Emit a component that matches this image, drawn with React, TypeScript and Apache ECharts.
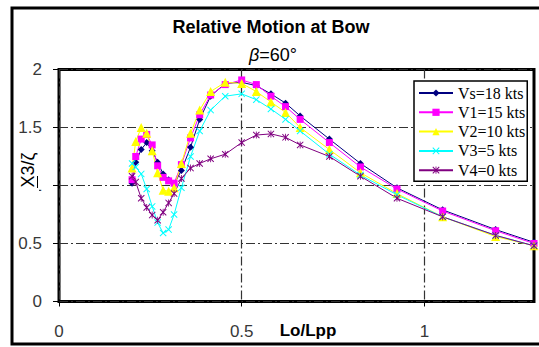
import { useEffect, useRef } from 'react';
import * as echarts from 'echarts';

// Wavelength ratio Lo/Lpp
const lambdaRatio = [0.20, 0.21, 0.225, 0.24, 0.255, 0.27, 0.285, 0.30, 0.315, 0.335, 0.36, 0.385, 0.415, 0.455, 0.50, 0.54, 0.58, 0.62, 0.66, 0.74, 0.825, 0.925, 1.05, 1.195, 1.30];

// Relative motion RAO at the bow for each ship speed
const vs18 = [1.02, 1.20, 1.31, 1.37, 1.30, 1.20, 1.10, 1.05, 1.01, 1.13, 1.33, 1.57, 1.77, 1.88, 1.89, 1.86, 1.79, 1.71, 1.60, 1.40, 1.19, 0.98, 0.79, 0.62, 0.51];
const v15 = [1.05, 1.25, 1.40, 1.44, 1.35, 1.17, 1.07, 1.04, 1.02, 1.18, 1.41, 1.61, 1.78, 1.87, 1.91, 1.87, 1.77, 1.68, 1.57, 1.37, 1.16, 0.97, 0.78, 0.61, 0.50];
const v10 = [1.15, 1.38, 1.50, 1.45, 1.30, 1.11, 0.96, 0.95, 0.98, 1.19, 1.45, 1.65, 1.81, 1.89, 1.88, 1.81, 1.72, 1.63, 1.50, 1.31, 1.11, 0.93, 0.73, 0.56, 0.48];
const v5 = [1.19, 1.16, 1.10, 0.97, 0.82, 0.68, 0.59, 0.62, 0.75, 0.98, 1.25, 1.47, 1.65, 1.77, 1.79, 1.74, 1.66, 1.57, 1.47, 1.27, 1.09, 0.92, 0.73, 0.57, 0.48];
const v0 = [1.08, 1.03, 0.89, 0.81, 0.745, 0.70, 0.77, 0.85, 0.93, 1.06, 1.15, 1.19, 1.23, 1.27, 1.37, 1.435, 1.445, 1.415, 1.35, 1.25, 1.08, 0.89, 0.73, 0.57, 0.48];

const seriesNames = ['Vs=18 kts', 'V1=15 kts', 'V2=10 kts', 'V3=5 kts', 'V4=0 kts'];
const seriesValues = [vs18, v15, v10, v5, v0];
const seriesColors = ['#000080', '#FF00FF', '#FFFF00', '#00FFFF', '#800080'];

const xTickValues = [0, 0.5, 1];

const CROSS = 'path://M0,1L1,0L5,4L9,0L10,1L6,5L10,9L9,10L5,6L1,10L0,9L4,5Z';
const STAR = 'path://M0,1L1,0L5,4L9,0L10,1L6,5L10,9L9,10L5,6L1,10L0,9L4,5ZM4.4,0L5.6,0L5.6,10L4.4,10Z';
const seriesSymbols = ['diamond', 'rect', 'triangle', CROSS, STAR];
const seriesSymbolSizes = [7, 7, 9, 7, 7];

export default function App() {
  const ref = useRef<HTMLDivElement>(null);

  useEffect(() => {
    const chart = echarts.init(ref.current!, null, { renderer: 'svg' });
    const gridLine = { color: '#333', width: 1.2, type: [9, 3, 2, 3] as number[] };
    const labelFont = { fontFamily: 'Liberation Sans, Arial, sans-serif', fontSize: 17, color: '#383838' };

    chart.setOption({
      animation: false,
      backgroundColor: '#fff',
      grid: {
        left: 59,
        top: 69.5,
        right: 5,
        bottom: 45.5,
        show: true,
        borderColor: '#000',
        borderWidth: 3,
        backgroundColor: 'transparent',
      },
      xAxis: {
        type: 'value',
        min: 0,
        max: 1.3,
        interval: 0.5,
        axisLine: { show: false },
        axisTick: { show: true, inside: false, length: 5, lineStyle: { color: '#000' }, customValues: xTickValues },
        axisLabel: { ...labelFont, margin: 21, customValues: xTickValues },
        splitLine: { show: true, lineStyle: gridLine },
      },
      yAxis: {
        type: 'value',
        min: 0,
        max: 2,
        interval: 0.5,
        axisLine: { show: false },
        axisTick: { show: true, inside: false, length: 6, lineStyle: { color: '#000' } },
        axisLabel: { ...labelFont, margin: 17 },
        splitLine: { show: true, lineStyle: gridLine },
      },
      legend: {
        orient: 'vertical',
        left: 414,
        top: 81,
        padding: [4, 2, 3, 4],
        itemWidth: 34,
        itemHeight: 9,
        itemGap: 3.3,
        backgroundColor: '#fff',
        borderColor: '#000',
        borderWidth: 1.5,
        textStyle: { fontFamily: 'Liberation Serif, Times New Roman, serif', fontSize: 16, color: '#000', lineHeight: 16 },
        data: seriesNames,
      },
      series: seriesNames.map((name, k) => ({
        name,
        type: 'line',
        data: lambdaRatio.map((x, i) => [x, seriesValues[k][i]]),
        symbol: seriesSymbols[k],
        symbolSize: seriesSymbolSizes[k],
        showAllSymbol: true,
        lineStyle: { color: seriesColors[k], width: 1 },
        itemStyle: { color: seriesColors[k] },
        clip: true,
      })),
      graphic: [
        {
          type: 'rect',
          shape: { x: 12, y: 8, width: 540, height: 336 },
          style: { fill: 'none', stroke: '#000', lineWidth: 3 },
          silent: true,
        },
        {
          type: 'text',
          x: 271,
          y: 27,
          style: {
            text: 'Relative Motion at Bow',
            font: 'bold 18px "Liberation Sans", Arial, sans-serif',
            fill: '#000',
            align: 'center',
            verticalAlign: 'middle',
          },
        },
        {
          type: 'text',
          x: 273,
          y: 55,
          style: {
            text: '{i|β}=60°',
            font: '18px "Liberation Sans", Arial, sans-serif',
            fill: '#000',
            align: 'center',
            verticalAlign: 'middle',
            rich: { i: { fontStyle: 'italic', fontSize: 18, fontFamily: 'Liberation Sans' } },
          },
        },
        {
          type: 'text',
          x: 308,
          y: 330,
          style: {
            text: 'Lo/Lpp',
            font: 'bold 17px "Liberation Sans", Arial, sans-serif',
            fill: '#000',
            align: 'center',
            verticalAlign: 'middle',
          },
        },
        {
          type: 'text',
          x: 28,
          y: 170,
          rotation: Math.PI / 2,
          z: 100,
          style: {
            text: 'X3/ζ',
            font: '18px "Liberation Sans", Arial, sans-serif',
            fill: '#000',
            align: 'center',
            verticalAlign: 'middle',
            backgroundColor: '#fff',
            padding: [2, 4, 2, 4],
          },
        },
        {
          type: 'line',
          z: 101,
          shape: { x1: 37.5, y1: 188, x2: 37.5, y2: 176 },
          style: { stroke: '#000', lineWidth: 1 },
        },
      ],
    });

    return () => chart.dispose();
  }, []);

  return (
    <div
      ref={ref}
      style={{ position: 'absolute', left: 0, top: 0, width: 539, height: 347, background: '#fff' }}
    />
  );
}
